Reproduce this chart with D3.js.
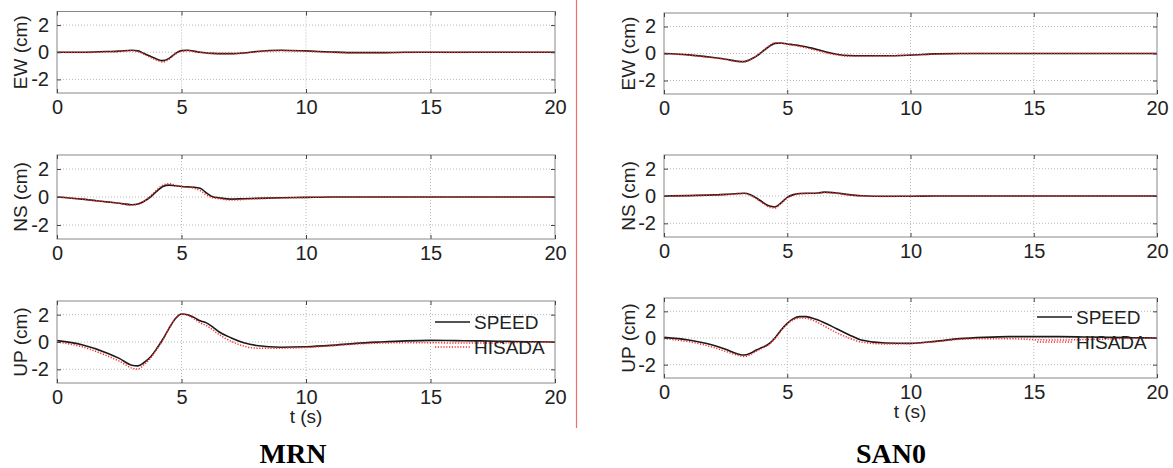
<!DOCTYPE html>
<html>
<head>
<meta charset="utf-8">
<script src="https://cdn.jsdelivr.net/npm/d3@7"></script>
<style>
  body { margin: 0; background: #fff; }
  svg text { font-family: "Liberation Sans", Arial, sans-serif; fill: #222; }
</style>
</head>
<body>
<div id="chart"></div>
<script>
// sample times (s), shared by all traces
var time = [0, 1, 2, 2.5, 3, 3.25, 3.5, 3.75, 4, 4.25, 4.5, 4.75, 5, 5.25, 5.5, 5.75, 6, 6.25, 6.5, 7, 7.5, 8, 9, 10, 11, 12, 13, 14, 15, 16, 17, 18, 19, 20];

// MRN station
var mrn_ew_speed  = [0, 0, 0.05, 0.08, 0.15, 0.1, -0.1, -0.3, -0.5, -0.62, -0.45, -0.1, 0.12, 0.15, 0.08, 0, -0.05, -0.08, -0.1, -0.1, -0.05, 0.05, 0.15, 0.1, 0.02, -0.03, -0.03, 0, 0, 0, 0, 0, 0, 0];
var mrn_ew_hisada = [0, -0.02, 0.02, 0.05, 0.12, 0.05, -0.15, -0.38, -0.58, -0.72, -0.52, -0.15, 0.08, 0.12, 0.05, -0.02, -0.08, -0.1, -0.12, -0.12, -0.08, 0.02, 0.12, 0.08, -0.02, -0.05, -0.05, -0.02, 0, -0.02, 0, 0, 0, 0];
var mrn_ns_speed  = [0, -0.15, -0.35, -0.45, -0.55, -0.5, -0.3, 0, 0.4, 0.75, 0.85, 0.8, 0.75, 0.72, 0.7, 0.62, 0.3, 0.02, -0.05, -0.15, -0.12, -0.1, -0.05, -0.03, 0, 0, 0, 0, 0, 0, 0, 0, 0, 0];
var mrn_ns_hisada = [0, -0.15, -0.35, -0.45, -0.58, -0.52, -0.3, 0.05, 0.5, 0.85, 0.95, 0.85, 0.75, 0.7, 0.62, 0.45, 0.15, -0.05, -0.12, -0.22, -0.18, -0.12, -0.08, -0.03, 0, 0, 0, 0, 0, 0, 0, 0, 0, 0];
var mrn_up_speed  = [0.1, -0.2, -0.8, -1.2, -1.7, -1.75, -1.5, -1.1, -0.5, 0.2, 1.0, 1.7, 2.05, 2.0, 1.8, 1.55, 1.4, 1.1, 0.75, 0.3, -0.05, -0.25, -0.38, -0.35, -0.25, -0.1, 0, 0.08, 0.12, 0.1, 0.08, 0.05, 0.02, 0];
var mrn_up_hisada = [0, -0.35, -1.0, -1.4, -1.9, -1.98, -1.65, -1.2, -0.55, 0.15, 1.0, 1.7, 2.05, 1.95, 1.7, 1.4, 1.2, 0.9, 0.55, 0.05, -0.3, -0.45, -0.45, -0.4, -0.28, -0.15, -0.08, -0.05, -0.05, -0.08, -0.08, -0.05, -0.02, 0];

// SAN0 station
var san_ew_speed  = [0, -0.1, -0.3, -0.42, -0.58, -0.6, -0.45, -0.2, 0.15, 0.5, 0.75, 0.78, 0.7, 0.65, 0.58, 0.5, 0.4, 0.28, 0.15, -0.05, -0.15, -0.17, -0.17, -0.12, -0.03, 0, 0, 0, 0, 0, 0, 0, 0, 0];
var san_ew_hisada = [0, -0.12, -0.32, -0.45, -0.6, -0.62, -0.45, -0.18, 0.18, 0.55, 0.8, 0.78, 0.68, 0.6, 0.52, 0.42, 0.32, 0.2, 0.08, -0.1, -0.2, -0.2, -0.18, -0.12, -0.05, -0.02, 0, 0, 0, 0, 0, 0, 0, 0];
var san_ns_speed  = [0, 0.03, 0.08, 0.12, 0.18, 0.2, 0.1, -0.15, -0.45, -0.72, -0.8, -0.5, -0.1, 0.1, 0.18, 0.2, 0.2, 0.22, 0.28, 0.22, 0.1, 0.02, -0.02, -0.02, 0, 0, 0, 0, 0, 0, 0, 0, 0, 0];
var san_ns_hisada = [0, 0.02, 0.07, 0.1, 0.15, 0.18, 0.05, -0.2, -0.52, -0.8, -0.88, -0.55, -0.15, 0.05, 0.15, 0.17, 0.18, 0.2, 0.25, 0.18, 0.08, 0, -0.03, -0.02, 0, 0, 0, 0, 0, 0, 0, 0, 0, 0];
var san_up_speed  = [0.05, -0.15, -0.55, -0.85, -1.2, -1.28, -1.15, -0.9, -0.7, -0.45, 0, 0.6, 1.1, 1.45, 1.6, 1.6, 1.5, 1.35, 1.15, 0.7, 0.25, -0.15, -0.38, -0.4, -0.25, -0.05, 0.05, 0.1, 0.1, 0.1, 0.08, 0.05, 0.02, 0];
var san_up_hisada = [-0.05, -0.28, -0.7, -1.0, -1.3, -1.38, -1.25, -0.98, -0.75, -0.5, -0.05, 0.55, 1.05, 1.35, 1.5, 1.48, 1.35, 1.15, 0.9, 0.4, 0, -0.3, -0.45, -0.42, -0.28, -0.1, -0.05, -0.05, -0.12, -0.15, -0.12, -0.08, -0.03, 0];

var x_ticks = [0, 5, 10, 15, 20];
var y_ticks = [-2, 0, 2];
var component_labels = ["EW (cm)", "NS (cm)", "UP (cm)"];
var station_names = ["MRN", "SAN0"];
var legend_names = ["SPEED", "HISADA"];

var stations = [
  { name: station_names[0], series: [[mrn_ew_speed, mrn_ew_hisada], [mrn_ns_speed, mrn_ns_hisada], [mrn_up_speed, mrn_up_hisada]] },
  { name: station_names[1], series: [[san_ew_speed, san_ew_hisada], [san_ns_speed, san_ns_hisada], [san_up_speed, san_up_hisada]] }
];

// layout of the two columns (pixel boxes of each axes)
var columns = [
  { x0: 57, x1: 555, rows: [[11.5, 93], [155, 239], [301, 383]], ylab: 20, titleX: 293, tlabX: 306, tlabY: 423, legY: 21 },
  { x0: 664, x1: 1157, rows: [[13, 94], [155, 237], [298, 378]], ylab: 628, titleX: 891, tlabX: 910, tlabY: 418, legY: 19 }
];

var svg = d3.select("#chart").append("svg")
  .attr("width", 1173)
  .attr("height", 468);

// red separator between the stations
svg.append("line")
  .attr("x1", 576.5).attr("x2", 576.5)
  .attr("y1", 0).attr("y2", 428)
  .attr("stroke", "#f07070")
  .attr("stroke-width", 1.2);

var colors = ["#1a1a1a", "#ff2a2a"];
// plain hyphen minus, like the original
var fmt = function (d) { return String(d); };

stations.forEach(function (st, c) {
  var col = columns[c];
  var x = d3.scaleLinear().domain([0, 20]).range([col.x0, col.x1]);

  col.rows.forEach(function (r, k) {
    var y = d3.scaleLinear().domain([-3, 3]).range([r[1], r[0]]);
    var g = svg.append("g");

    // dotted grid
    g.selectAll(".gx").data(x_ticks.slice(1, -1)).enter().append("line")
      .attr("x1", function (d) { return x(d); }).attr("x2", function (d) { return x(d); })
      .attr("y1", r[0]).attr("y2", r[1])
      .attr("stroke", "#bbb").attr("stroke-dasharray", "1,2");
    g.selectAll(".gy").data(y_ticks).enter().append("line")
      .attr("x1", col.x0).attr("x2", col.x1)
      .attr("y1", function (d) { return y(d); }).attr("y2", function (d) { return y(d); })
      .attr("stroke", "#bbb").attr("stroke-dasharray", "1,2");

    // traces
    var line = function (vals) {
      return d3.line()
        .x(function (d, i) { return x(time[i]); })
        .y(function (d) { return y(d); })
        .curve(d3.curveMonotoneX)(vals);
    };
    st.series[k].forEach(function (vals, s) {
      g.append("path")
        .attr("d", line(vals))
        .attr("fill", "none")
        .attr("stroke", colors[s])
        .attr("stroke-width", s === 0 ? 1.6 : 1.5)
        .attr("stroke-dasharray", s === 0 ? null : "1.2,1.6");
    });

    // box
    g.append("rect")
      .attr("x", col.x0).attr("y", r[0])
      .attr("width", col.x1 - col.x0).attr("height", r[1] - r[0])
      .attr("fill", "none").attr("stroke", "#888").attr("stroke-width", 1);

    // axes with inward ticks
    var xa = g.append("g").attr("transform", "translate(0," + r[1] + ")")
      .call(d3.axisBottom(x).tickValues(x_ticks).tickFormat(fmt).tickSizeInner(-4).tickSizeOuter(0).tickPadding(7));
    var xt = g.append("g").attr("transform", "translate(0," + r[0] + ")")
      .call(d3.axisTop(x).tickValues(x_ticks).tickSizeInner(-4).tickSizeOuter(0).tickFormat(""));
    var ya = g.append("g").attr("transform", "translate(" + col.x0 + ",0)")
      .call(d3.axisLeft(y).tickValues(y_ticks).tickFormat(fmt).tickSizeInner(-4).tickSizeOuter(0).tickPadding(8));
    var yr = g.append("g").attr("transform", "translate(" + col.x1 + ",0)")
      .call(d3.axisRight(y).tickValues(y_ticks).tickSizeInner(-4).tickSizeOuter(0).tickFormat(""));
    [xa, xt, ya, yr].forEach(function (a) {
      a.select(".domain").remove();
      a.selectAll(".tick line").attr("stroke", "#444");
      a.selectAll("text").attr("font-size", 20).attr("fill", "#222")
        .attr("font-family", "'Liberation Sans', Arial, sans-serif");
    });

    // y label
    g.append("text")
      .attr("transform", "translate(" + col.ylab + "," + (r[0] + r[1]) / 2 + ") rotate(-90)")
      .attr("text-anchor", "middle")
      .attr("dy", "0.35em")
      .attr("font-size", 19)
      .text(component_labels[k]);

    // legend in the UP panel
    if (k === 2) {
      legend_names.forEach(function (nm, s) {
        var ly = r[0] + col.legY + s * 25;
        g.append("line")
          .attr("x1", col.x1 - 120).attr("x2", col.x1 - 85)
          .attr("y1", ly).attr("y2", ly)
          .attr("stroke", colors[s]).attr("stroke-width", 1.4)
          .attr("stroke-dasharray", s === 0 ? null : "1.2,1.6");
        g.append("text")
          .attr("x", col.x1 - 81).attr("y", ly)
          .attr("dy", "0.35em")
          .attr("font-size", 19)
          .text(nm);
      });
    }
  });

  svg.append("text")
    .attr("x", col.tlabX).attr("y", col.tlabY)
    .attr("text-anchor", "middle")
    .attr("font-size", 19)
    .text("t (s)");

  svg.append("text")
    .attr("x", col.titleX).attr("y", 463)
    .attr("text-anchor", "middle")
    .attr("font-size", 28)
    .attr("font-weight", "bold")
    .style("font-family", "'Liberation Serif', 'Times New Roman', serif")
    .style("fill", "#000")
    .text(st.name);
});
</script>
</body>
</html>
